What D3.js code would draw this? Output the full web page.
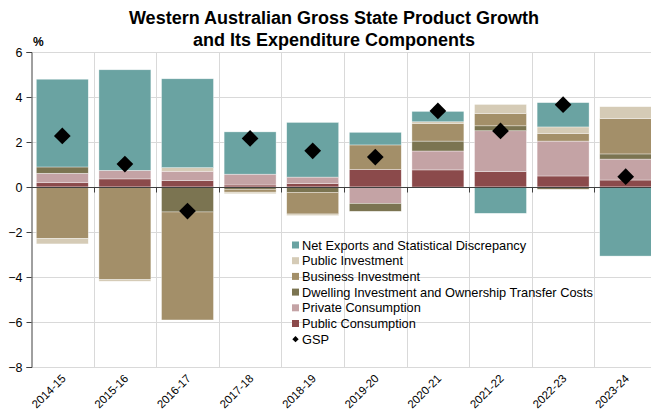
<!DOCTYPE html>
<html>
<head>
<meta charset="utf-8">
<script src="https://cdn.jsdelivr.net/npm/d3@7"></script>
<style>
  html, body { margin: 0; padding: 0; background: #fff; }
  svg { display: block; font-family: "Liberation Sans", Arial, sans-serif; }
</style>
</head>
<body>
<svg id="chart" width="651" height="414"></svg>
<script>
// Financial years
const years = ["2014-15", "2015-16", "2016-17", "2017-18", "2018-19",
               "2019-20", "2020-21", "2021-22", "2022-23", "2023-24"];

// Contributions to growth, percentage points
const publicConsumption  = [0.19, 0.36, 0.28, 0.09, 0.15, 0.78, 0.76, 0.68, 0.49, 0.31];
const privateConsumption = [0.42, 0.38, 0.42, 0.48, 0.29, -0.73, 0.84, 1.82, 1.55, 0.93];
const dwellingInvestment = [0.28, 0.00, -1.11, -0.10, -0.24, -0.35, 0.44, 0.22, -0.10, 0.23];
const businessInvestment = [-2.28, -4.12, -4.80, -0.13, -0.96, 1.09, 0.79, 0.55, 0.34, 1.57];
const publicInvestment   = [-0.25, -0.07, 0.16, -0.07, -0.07, 0.00, 0.07, 0.40, 0.29, 0.53];
const netExports         = [3.90, 4.47, 3.95, 1.88, 2.43, 0.56, 0.46, -1.17, 1.08, -3.07];

// Gross State Product growth, %
const gsp = [2.27, 1.02, -1.07, 2.16, 1.61, 1.33, 3.38, 2.49, 3.66, 0.46];

const yTicks = [6, 4, 2, 0, -2, -4, -6, -8];

const series = [
  { key: "pubc", name: "Public Consumption", values: publicConsumption, color: "#8b4a4b" },
  { key: "privc", name: "Private Consumption", values: privateConsumption, color: "#c4a3a5" },
  { key: "dwell", name: "Dwelling Investment and Ownership Transfer Costs", values: dwellingInvestment, color: "#7b7451" },
  { key: "bus", name: "Business Investment", values: businessInvestment, color: "#a38f69" },
  { key: "pubi", name: "Public Investment", values: publicInvestment, color: "#d5cbb6" },
  { key: "nx", name: "Net Exports and Statistical Discrepancy", values: netExports, color: "#6aa3a2" }
];

const rows = years.map((yr, i) => {
  const r = { year: yr };
  series.forEach(s => { r[s.key] = s.values[i]; });
  return r;
});

const svg = d3.select("#chart");
const plotLeft = 31, plotRight = 657, plotTop = 52, plotBottom = 367;

const x = d3.scaleBand().domain(years).range([plotLeft, plotRight]).paddingInner(0.17).paddingOuter(0.085);
const xb = d3.scaleBand().domain(years).range([plotLeft, plotRight]);
const y = d3.scaleLinear().domain([-8, 6]).range([plotBottom, plotTop]);

// Title
const title = svg.append("g").attr("text-anchor", "middle")
  .attr("font-weight", "bold").attr("font-size", 18).attr("fill", "#000");
title.append("text").attr("x", 334).attr("y", 24).text("Western Australian Gross State Product Growth");
title.append("text").attr("x", 334).attr("y", 46).text("and Its Expenditure Components");

// Gridlines
const grid = svg.append("g").attr("stroke", "#d9d9d9").attr("stroke-width", 1);
grid.selectAll("line.h").data(yTicks.filter(t => t !== 0)).join("line")
  .attr("x1", plotLeft).attr("x2", 651)
  .attr("y1", d => Math.round(y(d)) + 0.5).attr("y2", d => Math.round(y(d)) + 0.5);
grid.selectAll("line.v").data(years.slice(1)).join("line")
  .attr("x1", d => Math.round(xb(d)) + 0.5).attr("x2", d => Math.round(xb(d)) + 0.5)
  .attr("y1", plotTop).attr("y2", plotBottom);

// Stacked bars (positive and negative stacks diverge from zero)
const stack = d3.stack().keys(series.map(s => s.key)).offset(d3.stackOffsetDiverging);
const stacked = stack(rows);

svg.append("g").selectAll("g").data(stacked).join("g")
  .attr("fill", (d, i) => series[i].color)
  .selectAll("rect").data(d => d).join("rect")
  .attr("x", d => x(d.data.year))
  .attr("width", x.bandwidth())
  .attr("y", d => y(Math.max(d[0], d[1])))
  .attr("height", d => Math.abs(y(d[0]) - y(d[1])))
  .attr("stroke", "#fff").attr("stroke-opacity", 0.6).attr("stroke-width", 0.6);

// Y axis
const yAxis = d3.axisLeft(y).tickValues(yTicks).tickSize(5).tickPadding(4).tickFormat(d3.format("d"));
const ya = svg.append("g").attr("transform", `translate(${plotLeft + 0.5},0)`).call(yAxis);
ya.select(".domain").attr("stroke", "#404040");
ya.selectAll(".tick line").attr("stroke", "#404040");
ya.selectAll(".tick text").attr("font-size", 12.5).attr("fill", "#000")
  .attr("font-family", "Liberation Sans, Arial, sans-serif");

// Zero line with category ticks
const zy = Math.round(y(0)) + 0.5;
svg.append("line").attr("x1", plotLeft).attr("x2", 651).attr("y1", zy).attr("y2", zy)
  .attr("stroke", "#404040").attr("stroke-width", 1);
svg.append("g").selectAll("line").data(years.slice(1)).join("line")
  .attr("x1", d => Math.round(xb(d)) + 0.5).attr("x2", d => Math.round(xb(d)) + 0.5)
  .attr("y1", zy).attr("y2", zy + 5).attr("stroke", "#404040");

// Unit label
svg.append("text").attr("x", 33).attr("y", 46).attr("font-size", 12).attr("font-weight", "bold")
  .text("%");

// Category labels
svg.append("g").selectAll("text").data(years).join("text")
  .attr("transform", d => `translate(${xb(d) + xb.bandwidth() / 2 + 2},${plotBottom + 10}) rotate(-45)`)
  .attr("text-anchor", "end").attr("dominant-baseline", "middle")
  .attr("font-size", 11.5).attr("fill", "#000")
  .text(d => d);

// GSP markers
svg.append("g").selectAll("path").data(gsp).join("path")
  .attr("transform", (d, i) => `translate(${xb(years[i]) + xb.bandwidth() / 2},${y(d)}) rotate(45)`)
  .attr("d", d3.symbol().type(d3.symbolSquare).size(140))
  .attr("fill", "#000");

// Legend
const legendItems = series.slice().reverse().map(s => ({ name: s.name, color: s.color, type: "rect" }));
legendItems.push({ name: "GSP", color: "#000", type: "diamond" });
const lg = svg.append("g").attr("transform", "translate(292,245)");
const li = lg.selectAll("g").data(legendItems).join("g")
  .attr("transform", (d, i) => `translate(0,${i * 15.7})`);
li.filter(d => d.type === "rect").append("rect")
  .attr("x", 0).attr("y", -3.5).attr("width", 7).attr("height", 7).attr("fill", d => d.color);
li.filter(d => d.type === "diamond").append("path")
  .attr("transform", "translate(3.5,0) rotate(45)")
  .attr("d", d3.symbol().type(d3.symbolSquare).size(20)).attr("fill", "#000");
li.append("text").attr("x", 10).attr("y", 0).attr("dominant-baseline", "central")
  .attr("font-size", 12.8).attr("fill", "#000").text(d => d.name);
</script>
</body>
</html>
